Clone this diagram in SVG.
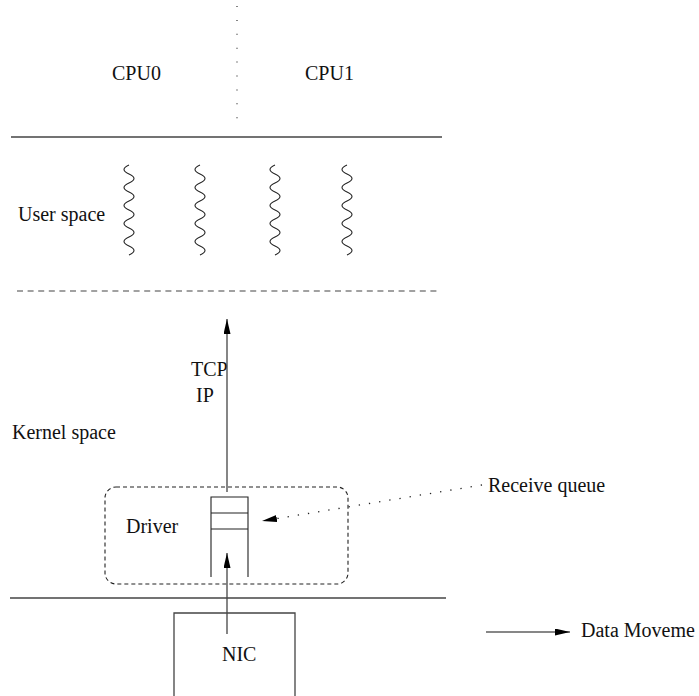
<svg xmlns="http://www.w3.org/2000/svg" width="699" height="696" viewBox="0 0 699 696">
<style>
text{font-family:"Liberation Serif","Times New Roman","DejaVu Serif",serif;font-size:20px;fill:#111}
.ln{stroke:#444;stroke-width:1.3;fill:none}
.thin{stroke:#222;stroke-width:1.1;fill:none}
.sq{stroke:#222;stroke-width:1.1;fill:none}
</style>
<defs>
<marker id="ah" markerWidth="16" markerHeight="8" refX="15" refY="3.5" orient="auto" markerUnits="userSpaceOnUse">
<path d="M0,0 L15,3.5 L0,7 Z" fill="#000"/>
</marker>
</defs>
<g id="layout">
<line x1="237" y1="6" x2="237" y2="122" stroke="#333" stroke-width="1.2" stroke-dasharray="1 12.9"/>
<line class="ln" x1="11" y1="137" x2="442" y2="137"/>
<line x1="17" y1="291" x2="440" y2="291" stroke="#444" stroke-width="1.2" stroke-dasharray="6 4.6"/>
<line class="ln" x1="10" y1="598" x2="446" y2="598"/>
</g>
<g id="labels">
<text x="112" y="80" font-family="Liberation Serif, serif">CPU0</text>
<text x="305" y="80" font-family="Liberation Serif, serif">CPU1</text>
<text x="18" y="221" font-family="Liberation Serif, serif">User space</text>
<text x="12" y="439" font-family="Liberation Serif, serif">Kernel space</text>
<text x="191" y="376" font-family="Liberation Serif, serif">TCP</text>
<text x="196" y="402" font-family="Liberation Serif, serif">IP</text>
</g>
<g id="threads">
<path class="sq" d="M129,165 q-10,4.5 0,9 t0,9 t0,9 t0,9 t0,9 t0,9 t0,9 t0,9 t0,9 t0,9"/>
<path class="sq" d="M200,165 q-10,4.5 0,9 t0,9 t0,9 t0,9 t0,9 t0,9 t0,9 t0,9 t0,9 t0,9"/>
<path class="sq" d="M275,165 q-10,4.5 0,9 t0,9 t0,9 t0,9 t0,9 t0,9 t0,9 t0,9 t0,9 t0,9"/>
<path class="sq" d="M347,165 q-10,4.5 0,9 t0,9 t0,9 t0,9 t0,9 t0,9 t0,9 t0,9 t0,9 t0,9"/>
</g>
<g id="driver">
<rect x="105" y="487" width="243" height="97" rx="11" ry="11" fill="none" stroke="#222" stroke-width="1.1" stroke-dasharray="4 3"/>
<text x="126" y="533" font-family="Liberation Serif, serif">Driver</text>
</g>
<g id="queue">
<path class="thin" d="M211,577 V497 H248 V577 M211,513 H248 M211,529 H248"/>
</g>
<g id="nic">
<path class="ln" d="M174,700 V613 H295 V700"/>
<text x="222" y="661" font-family="Liberation Serif, serif">NIC</text>
</g>
<g id="receive-queue-label">
<text x="488" y="492" font-family="Liberation Serif, serif">Receive queue</text>
</g>
<g id="legend">
<text x="581" y="637" font-family="Liberation Serif, serif">Data Moveme</text>
</g>
<g id="connectors">
<line class="ln" x1="227" y1="492" x2="227" y2="319" marker-end="url(#ah)"/>
<line class="ln" x1="227" y1="634" x2="227" y2="553" marker-end="url(#ah)"/>
<line x1="482" y1="485" x2="262" y2="521" stroke="#222" stroke-width="1.3" stroke-dasharray="1.3 9" marker-end="url(#ah)"/>
<line x1="486" y1="632" x2="570" y2="632" stroke="#111" stroke-width="1.2" marker-end="url(#ah)"/>
</g>
</svg>
